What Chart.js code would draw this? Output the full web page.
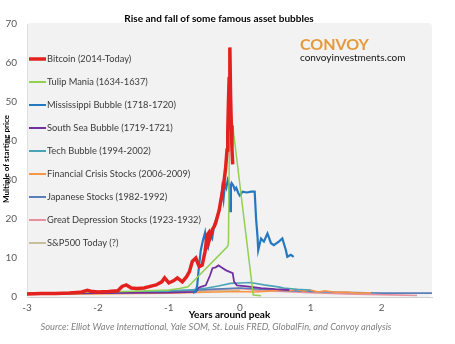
<!DOCTYPE html>
<html>
<head>
<meta charset="utf-8">
<script src="https://cdn.jsdelivr.net/npm/chart.js@4/dist/chart.umd.min.js"></script>
<style>
  html, body { margin: 0; padding: 0; background: #fff; }
  #wrap { width: 455px; height: 344px; position: relative; }
</style>
</head>
<body>
<div id="wrap"><canvas id="bubbleChart"></canvas></div>
<script>
// years around the peak (x) and multiple of starting price (y) for each bubble
const btcYears = [-3.0, -2.8, -2.6, -2.4, -2.25, -2.15, -2.1, -2.0, -1.85, -1.72, -1.66, -1.6, -1.53, -1.45, -1.35, -1.25, -1.18, -1.1, -1.06, -1.0,
  -0.93, -0.88, -0.81, -0.75, -0.71, -0.67, -0.62, -0.59, -0.57, -0.53, -0.49, -0.46, -0.44, -0.43, -0.41, -0.39, -0.36, -0.34, -0.31, -0.29,
  -0.27, -0.24, -0.22, -0.2, -0.18, -0.17, -0.16, -0.15, -0.14, -0.13, -0.12, -0.11, -0.1];
const btcMultiple = [0.8, 0.9, 0.9, 1.0, 1.2, 1.7, 1.5, 1.3, 1.4, 1.6, 2.7, 3.1, 2.3, 2.2, 2.3, 2.8, 3.1, 3.9, 4.9, 3.6,
  4.2, 4.9, 3.9, 5.2, 6.5, 9.1, 10.0, 8.6, 7.8, 8.2, 11.6, 15.9, 16.4, 14.6, 15.8, 17.2, 18.1, 19.0, 21.0, 22.3,
  24.5, 27.4, 30.0, 33.0, 37.7, 42.0, 50.0, 56.0, 64.0, 52.0, 44.0, 38.0, 34.0];

const tulipYears = [-3.0, -2.5, -2.0, -1.5, -1.0, -0.85, -0.73, -0.17, -0.16, -0.14, 0.19, 0.3];
const tulipMultiple = [1.0, 1.1, 1.3, 1.5, 1.8, 2.2, 2.6, 13.0, 14.0, 50.0, 0.5, 0.3];

const missYears = [-0.66, -0.62, -0.6, -0.58, -0.55, -0.52, -0.49, -0.47, -0.45, -0.42, -0.39, -0.36, -0.33, -0.3, -0.27, -0.25, -0.23, -0.21, -0.19, -0.17,
  -0.15, -0.135, -0.125, -0.115, -0.09, -0.07, -0.05, -0.02, 0.0, 0.04, 0.1, 0.16, 0.21, 0.23, 0.25, 0.26, 0.3, 0.34, 0.39, 0.44,
  0.48, 0.55, 0.6, 0.65, 0.67, 0.72, 0.76];
const missMultiple = [1.0, 1.5, 3.0, 7.0, 12.0, 14.5, 16.5, 13.0, 12.5, 16.0, 15.0, 18.5, 20.0, 21.5, 24.0, 27.5, 25.0, 29.0, 28.0, 30.0,
  29.0, 22.0, 28.5, 29.2, 28.5, 27.5, 28.0, 26.6, 26.0, 27.0, 26.8, 27.0, 27.0, 20.0, 15.5, 12.0, 15.0, 14.2, 16.3, 13.8,
  13.3, 14.2, 15.0, 12.0, 10.3, 10.8, 10.3];

const southSeaYears = [-3.0, -2.0, -1.0, -0.62, -0.58, -0.55, -0.48, -0.42, -0.385, -0.34, -0.3, -0.26, -0.2, -0.1, -0.08, -0.04, 0.1, 0.3, 0.5, 0.7];
const southSeaMultiple = [0.9, 1.0, 1.1, 1.3, 2.4, 2.6, 3.0, 5.5, 7.4, 7.6, 8.1, 7.6, 6.9, 6.1, 3.9, 3.0, 2.7, 2.3, 2.0, 1.8];

const techYears = [-3.0, -2.5, -2.0, -1.5, -1.0, -0.7, -0.5, -0.3, -0.13, 0.0, 0.15, 0.34, 0.54, 0.62, 0.8, 1.0];
const techMultiple = [0.8, 0.9, 1.0, 1.2, 1.5, 1.8, 2.2, 2.8, 3.5, 3.6, 3.7, 3.1, 2.6, 2.3, 2.0, 1.8];

const finYears = [-3.0, -2.5, -2.0, -1.5, -1.0, -0.5, 0.0, 0.2, 0.4, 0.6, 0.7, 0.8, 0.9, 1.0, 1.1, 1.2, 1.35, 1.5, 1.65, 1.85];
const finMultiple = [0.7, 0.75, 0.8, 0.9, 1.0, 1.2, 1.4, 1.3, 1.5, 1.9, 1.6, 2.0, 1.5, 1.8, 1.3, 1.6, 1.2, 1.3, 1.0, 1.1];

const japanYears = [-3.0, -2.5, -2.0, -1.5, -1.0, -0.5, 0.0, 0.3, 0.6, 1.0, 1.4, 1.8, 2.0, 2.3, 2.72];
const japanMultiple = [0.9, 1.0, 1.1, 1.3, 1.5, 1.9, 2.3, 2.0, 1.7, 1.4, 1.2, 1.1, 1.0, 1.0, 1.0];

const depressionYears = [-3.0, -2.5, -2.0, -1.5, -1.0, -0.5, 0.0, 0.3, 0.6, 1.0, 1.5, 2.0, 2.5];
const depressionMultiple = [0.8, 0.9, 1.0, 1.2, 1.4, 1.8, 2.2, 1.6, 1.4, 1.1, 0.8, 0.6, 0.4];

const spxYears = [-3.0, -2.5, -2.0, -1.5, -1.0, -0.5, -0.2, 0.0];
const spxMultiple = [1.0, 1.1, 1.15, 1.3, 1.35, 1.5, 1.65, 1.7];

const xTicks = [-3, -2, -1, 0, 1, 2];

function points(xs, ys) {
  return xs.map((x, i) => ({ x: x, y: ys[i] }));
}

function series(label, xs, ys, color, width) {
  return {
    label: label,
    data: points(xs, ys),
    borderColor: color,
    backgroundColor: color,
    borderWidth: width,
    pointRadius: 0,
    tension: 0,
    fill: false
  };
}

const datasets = [
  series('Bitcoin (2014-Today)', btcYears, btcMultiple, '#e3211f', 3.5),
  series('Tulip Mania (1634-1637)', tulipYears, tulipMultiple, '#92d050', 1.5),
  series('Mississippi Bubble (1718-1720)', missYears, missMultiple, '#2478c0', 2.2),
  series('South Sea Bubble (1719-1721)', southSeaYears, southSeaMultiple, '#7030a0', 1.8),
  series('Tech Bubble (1994-2002)', techYears, techMultiple, '#4ba3b8', 1.6),
  series('Financial Crisis Stocks (2006-2009)', finYears, finMultiple, '#f79646', 1.6),
  series('Japanese Stocks (1982-1992)', japanYears, japanMultiple, '#5a7fb8', 1.6),
  series('Great Depression Stocks (1923-1932)', depressionYears, depressionMultiple, '#e6919b', 1.6),
  series('S&P500 Today (?)', spxYears, spxMultiple, '#c6c09c', 1.6)
];

// grey plot background behind the lines
const plotBackground = {
  id: 'plotBackground',
  beforeDraw(chart) {
    const { ctx, chartArea: a } = chart;
    ctx.save();
    ctx.fillStyle = '#f2f2f2';
    ctx.beginPath();
    ctx.roundRect(a.left, a.top - 1, a.right - a.left, a.bottom - a.top + 1, 4);
    ctx.fill();
    ctx.restore();
  }
};

// legend in the empty left part of the plot, titles, source line and logo
const annotations = {
  id: 'annotations',
  afterDatasetsDraw(chart) {
    const { ctx } = chart;
    ctx.save();
    ctx.textBaseline = 'middle';

    chart.data.datasets.forEach((ds, i) => {
      const y = 59 + i * 23;
      ctx.strokeStyle = ds.borderColor;
      ctx.lineWidth = i === 0 ? 3.5 : 2;
      ctx.beginPath();
      ctx.moveTo(29, y);
      ctx.lineTo(46, y);
      ctx.stroke();
      ctx.fillStyle = '#3a3a3a';
      ctx.font = '9.3px Lato';
      ctx.textAlign = 'left';
      ctx.fillText(ds.label, 47, y);
    });

    ctx.fillStyle = '#e49a3c';
    ctx.font = 'bold 16px Lato';
    ctx.fillText('CONVOY', 300, 45);
    ctx.fillStyle = '#111';
    ctx.font = '10px Lato';
    ctx.fillText('convoyinvestments.com', 300, 58);
    ctx.restore();
  },
  afterDraw(chart) {
    const { ctx, chartArea: a } = chart;
    const mid = (a.left + a.right) / 2;
    ctx.save();
    ctx.textBaseline = 'middle';
    ctx.textAlign = 'center';
    ctx.fillStyle = '#000';
    ctx.font = 'bold 10px Lato';
    ctx.fillText('Rise and fall of some famous asset bubbles', 219, 19);
    ctx.fillText('Years around peak', mid, 315);

    ctx.fillStyle = '#7f7f7f';
    ctx.font = 'italic 9.3px Lato';
    ctx.fillText('Source: Elliot Wave International, Yale SOM, St. Louis FRED, GlobalFin, and Convoy analysis', 216, 327);

    ctx.translate(6, 159);
    ctx.rotate(-Math.PI / 2);
    ctx.fillStyle = '#000';
    ctx.font = 'bold 8px Lato';
    ctx.fillText('Multiple of starting price', 0, 0);
    ctx.restore();
  }
};

const ctx = document.getElementById('bubbleChart').getContext('2d');
const bubbleChart = new Chart(ctx, {
  type: 'line',
  data: { datasets: datasets },
  plugins: [plotBackground, annotations],
  options: {
    responsive: true,
    maintainAspectRatio: false,
    animation: false,
    layout: { padding: { top: 24, right: 23, bottom: 0, left: 0 } },
    plugins: {
      legend: { display: false },
      tooltip: { enabled: false }
    },
    scales: {
      x: {
        type: 'linear',
        min: -3,
        max: 2.71,
        afterFit: s => { s.height = 47; },
        afterBuildTicks: s => { s.ticks = xTicks.map(v => ({ value: v })); },
        grid: { display: false, drawTicks: false },
        border: { display: true, color: '#d0d0d0' },
        ticks: { color: '#595959', font: { family: 'Lato', size: 10 }, padding: 5, maxRotation: 0 }
      },
      y: {
        min: 0,
        max: 70,
        afterFit: s => { s.width = 27; },
        grid: { display: false, drawTicks: false },
        border: { display: true, color: '#e0e0e0' },
        ticks: { stepSize: 10, color: '#595959', font: { family: 'Lato', size: 10 }, padding: 10 }
      }
    }
  }
});
</script>
</body>
</html>
